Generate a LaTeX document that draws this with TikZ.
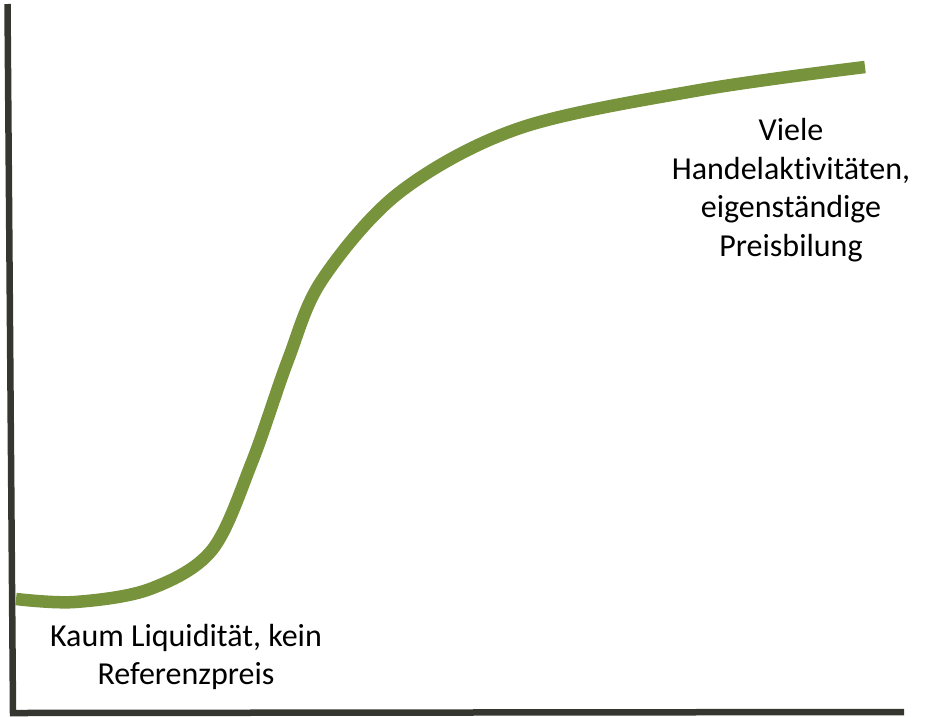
\documentclass[tikz,border=0pt]{standalone}
\usepackage{fontspec}
\setmainfont{Carlito}[Ligatures=NoCommon]
\definecolor{curvegreen}{HTML}{77933C}
\definecolor{axisgray}{HTML}{363631}
\begin{document}
\begin{tikzpicture}[x=1pt,y=-1pt,
    label/.style={align=center,font=\fontsize{32}{38.5}\selectfont}]
  \useasboundingbox (0,0) rectangle (928,716);
  % axes
  \draw[line width=6.5pt,axisgray] (7.5,4) -- (13,713) -- (904,712);
  % curve
  \draw[line width=12.5pt,curvegreen] plot[smooth,tension=0.55] coordinates
    {(16,599) (75,602) (150,589) (212,550) (252,462) (288,360) (322,280)
     (400,192) (520,128) (700,90) (865,67)};
  \node[label] (low) at (186,657) {Kaum Liquidität, kein\\Referenzpreis};
  \node[label] (high) at (791,190) {Viele\\Handelaktivitäten,\\eigenständige\\Preisbilung};
\end{tikzpicture}
\end{document}
